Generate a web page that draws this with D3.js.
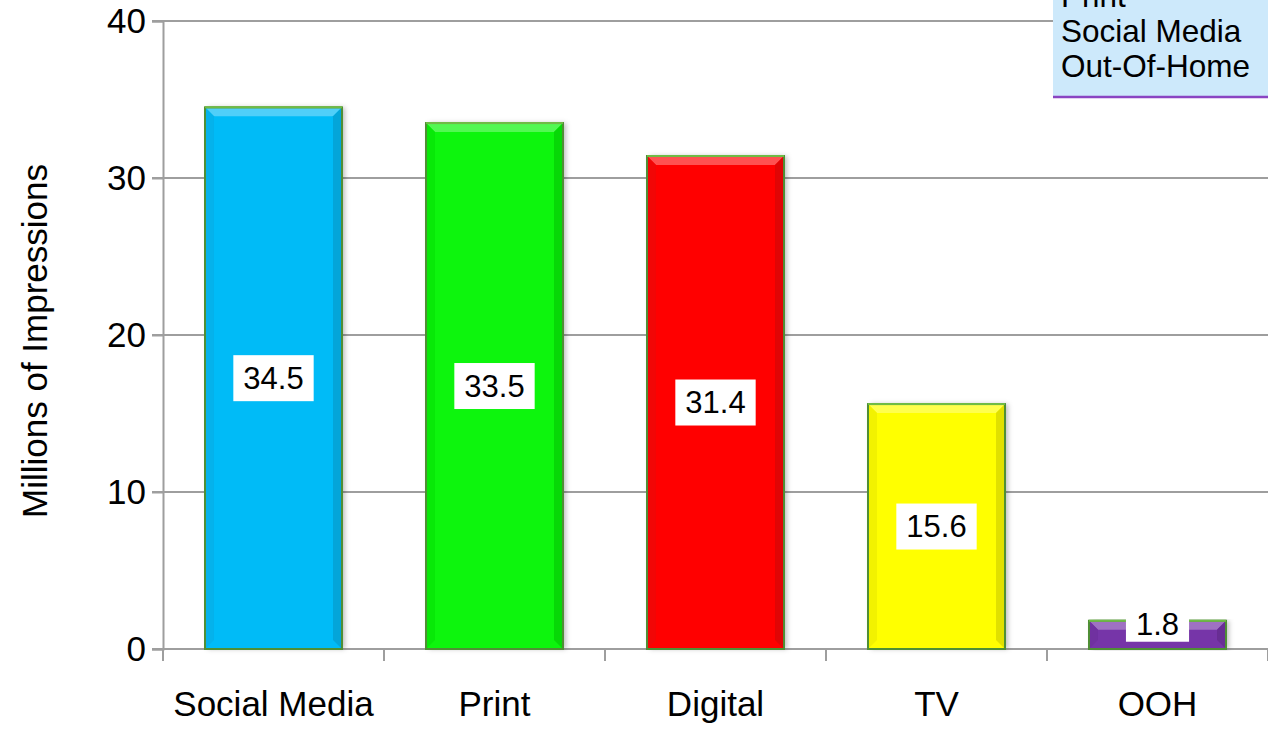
<!DOCTYPE html>
<html>
<head>
<meta charset="utf-8">
<script src="https://cdn.jsdelivr.net/npm/d3@7"></script>
<style>
  html, body { margin: 0; padding: 0; background: #ffffff; }
  svg { display: block; font-family: "Liberation Sans", Arial, sans-serif; }
</style>
</head>
<body>
<svg id="chart" width="1268" height="736"></svg>
<script>
// Impressions by channel (millions)
const categories = ["Social Media", "Print", "Digital", "TV", "OOH"];
const impressions = [34.5, 33.5, 31.4, 15.6, 1.8];
const barColors = ["#05bbf7", "#08f508", "#ff0606", "#ffff00", "#7634a8"];
const yTicks = [0, 10, 20, 30, 40];
const legendLines = ["Print", "Social Media", "Out-Of-Home"];
const yTitle = "Millions of Impressions";

(function drawChart() {
  const svg = d3.select("#chart");
  const W = 1268;
  const plotLeft = 163, plotRight = 1268, plotTop = 21, plotBottom = 649;

  const x = d3.scaleBand().domain(categories).range([plotLeft, plotRight])
    .paddingInner(0.38).paddingOuter(0.19);
  const y = d3.scaleLinear().domain([0, 40]).range([plotBottom, plotTop]);

  const gridColor = "#9e9e9e";

  // gridlines
  svg.append("g").selectAll("line").data(yTicks.filter(d => d > 0)).join("line")
    .attr("x1", plotLeft - 11).attr("x2", plotRight)
    .attr("y1", d => y(d)).attr("y2", d => y(d))
    .attr("stroke", gridColor).attr("stroke-width", 2);

  // y axis
  const yAxis = svg.append("g").attr("transform", `translate(${plotLeft},0)`)
    .call(d3.axisLeft(y).tickValues(yTicks).tickSize(11).tickPadding(6).tickFormat(d3.format("d")));
  yAxis.select(".domain").attr("stroke", gridColor).attr("stroke-width", 2);
  yAxis.selectAll(".tick line").attr("stroke", gridColor).attr("stroke-width", 2);
  yAxis.selectAll(".tick text").attr("font-size", 35).attr("fill", "#000")
    .attr("font-family", "Liberation Sans, Arial, sans-serif");

  // x axis with ticks at band boundaries
  const xAxisG = svg.append("g").attr("transform", `translate(0,${plotBottom})`);
  xAxisG.append("line").attr("x1", plotLeft - 11).attr("x2", plotRight)
    .attr("stroke", gridColor).attr("stroke-width", 2);
  const bandEdge = i => plotLeft + i * (plotRight - plotLeft) / categories.length;
  xAxisG.selectAll("line.tk").data(d3.range(categories.length + 1)).join("line")
    .attr("class", "tk")
    .attr("x1", bandEdge).attr("x2", bandEdge)
    .attr("y1", 0).attr("y2", 12)
    .attr("stroke", gridColor).attr("stroke-width", 2);
  xAxisG.selectAll("text").data(categories).join("text")
    .attr("x", d => x(d) + x.bandwidth() / 2)
    .attr("y", 67)
    .attr("text-anchor", "middle")
    .attr("font-size", 35)
    .attr("fill", "#000")
    .text(d => d);

  // y axis title
  svg.append("text")
    .attr("transform", `translate(47,${(plotTop + plotBottom) / 2 + 6}) rotate(-90)`)
    .attr("text-anchor", "middle")
    .attr("font-size", 35)
    .attr("fill", "#000")
    .text(yTitle);

  // bars with a bevelled look
  const defs = svg.append("defs");
  const shadow = defs.append("filter").attr("id", "barShadow")
    .attr("x", "-20%").attr("y", "-5%").attr("width", "140%").attr("height", "110%");
  shadow.append("feDropShadow").attr("dx", 3).attr("dy", 0).attr("stdDeviation", 2.5)
    .attr("flood-color", "#000").attr("flood-opacity", 0.25);

  const data = categories.map((c, i) => ({ c, v: impressions[i], col: barColors[i] }));
  const bev = 9;

  const bars = svg.append("g").selectAll("g").data(data).join("g");
  bars.append("rect")
    .attr("x", d => x(d.c)).attr("y", d => y(d.v))
    .attr("width", x.bandwidth()).attr("height", d => y(0) - y(d.v))
    .attr("fill", d => d.col)
    .attr("filter", "url(#barShadow)");
  // top bevel (lighter)
  bars.append("polygon")
    .attr("points", d => {
      const x0 = x(d.c), x1 = x0 + x.bandwidth(), y0 = y(d.v);
      const b = Math.min(bev, (y(0) - y0) / 2);
      return [[x0, y0], [x1, y0], [x1 - b, y0 + b], [x0 + b, y0 + b]].join(" ");
    })
    .attr("fill", d => d3.interpolateRgb(d.col, "#ffffff")(0.3));
  // right bevel (darker)
  bars.append("polygon")
    .attr("points", d => {
      const x0 = x(d.c), x1 = x0 + x.bandwidth(), y0 = y(d.v), yb = y(0);
      const b = Math.min(bev, (yb - y0) / 2);
      return [[x1, y0], [x1, yb], [x1 - b, yb - b], [x1 - b, y0 + b]].join(" ");
    })
    .attr("fill", d => d3.interpolateRgb(d.col, "#000000")(0.12));
  // left bevel (slightly darker)
  bars.append("polygon")
    .attr("points", d => {
      const x0 = x(d.c), y0 = y(d.v), yb = y(0);
      const b = Math.min(bev, (yb - y0) / 2);
      return [[x0, y0], [x0 + b, y0 + b], [x0 + b, yb - b], [x0, yb]].join(" ");
    })
    .attr("fill", d => d3.interpolateRgb(d.col, "#000000")(0.05));
  // outline
  bars.append("rect")
    .attr("x", d => x(d.c)).attr("y", d => y(d.v))
    .attr("width", x.bandwidth()).attr("height", d => y(0) - y(d.v))
    .attr("fill", "none")
    .attr("stroke", "#4f8f35").attr("stroke-width", 2);
  // top highlight line
  bars.append("line")
    .attr("x1", d => x(d.c)).attr("x2", d => x(d.c) + x.bandwidth())
    .attr("y1", d => y(d.v)).attr("y2", d => y(d.v))
    .attr("stroke", "#6fbb45").attr("stroke-width", 2);

  // value labels in white boxes, centred in each bar
  const labelSize = 31;
  const labels = svg.append("g").selectAll("g").data(data).join("g");
  labels.each(function(d) {
    const g = d3.select(this);
    const cx = x(d.c) + x.bandwidth() / 2;
    let boxH = 46;
    let cy = (y(d.v) + y(0)) / 2;
    let boxTop = cy - boxH / 2;
    if (y(0) - y(d.v) < boxH) {
      // short bar: the box sits over the top of the bar
      boxH = 34;
      cy = y(d.v) + 4;
      boxTop = cy - 17;
    }
    const t = g.append("text")
      .attr("x", cx).attr("y", cy)
      .attr("text-anchor", "middle")
      .attr("dominant-baseline", "central")
      .attr("font-size", labelSize)
      .attr("fill", "#000")
      .text(d3.format(".1f")(d.v));
    const w = t.node().getComputedTextLength() + 20;
    g.insert("rect", "text")
      .attr("x", cx - w / 2).attr("y", boxTop)
      .attr("width", w).attr("height", boxH)
      .attr("fill", "#ffffff");
  });

  // legend box in the top right corner, partly clipped by the frame
  const lg = svg.append("g");
  lg.append("rect").attr("x", 1053).attr("y", -20).attr("width", W - 1053).attr("height", 117)
    .attr("fill", "#cde9fb");
  lg.append("line").attr("x1", 1053).attr("x2", W).attr("y1", 97).attr("y2", 97)
    .attr("stroke", "#8a45c2").attr("stroke-width", 2.5);
  lg.selectAll("text").data(legendLines).join("text")
    .attr("x", 1061)
    .attr("y", (d, i) => 7 + i * 35)
    .attr("font-size", 31.5)
    .attr("fill", "#000")
    .text(d => d);
})();
</script>
</body>
</html>
